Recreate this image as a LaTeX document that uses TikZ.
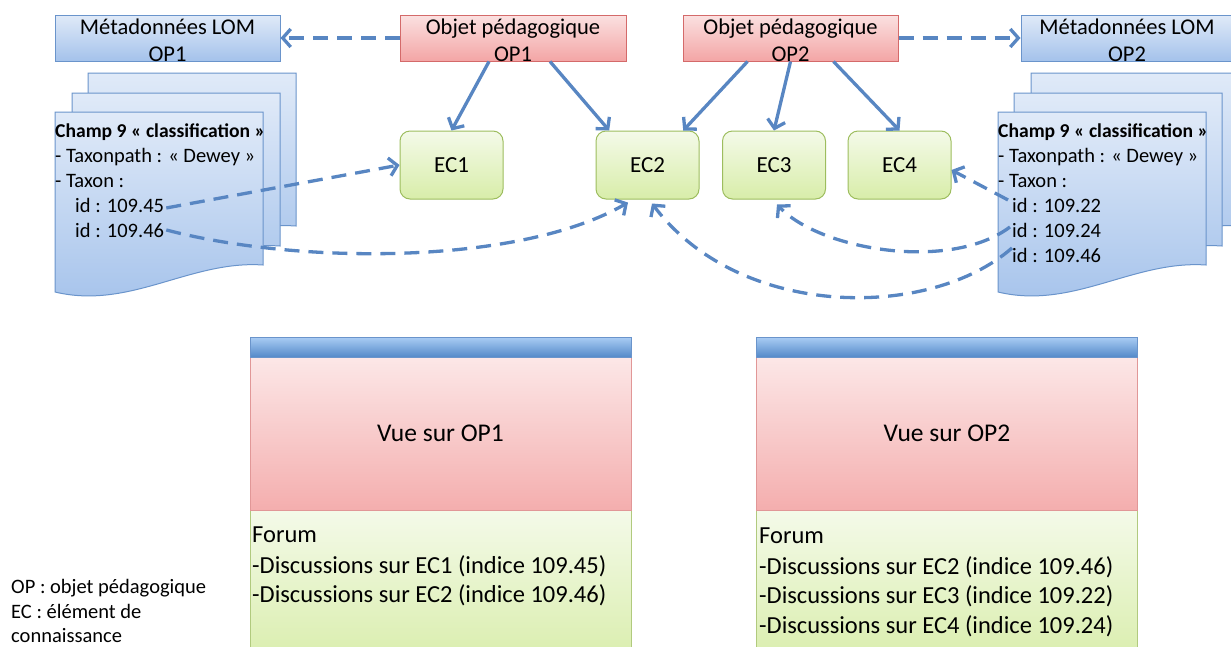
\documentclass[tikz,border=0pt]{standalone}
\usepackage{fontspec}
\setmainfont{Carlito}
\usetikzlibrary{arrows.meta}
\definecolor{arrc}{HTML}{5886C2}
\definecolor{bluetop}{HTML}{E0EAF8}
\definecolor{bluebot}{HTML}{A4C2EB}
\definecolor{bluedraw}{HTML}{6A94CB}
\definecolor{redtop}{HTML}{FBE1E1}
\definecolor{redbot}{HTML}{F3A5A5}
\definecolor{reddraw}{HTML}{D46A6A}
\definecolor{greentop}{HTML}{F4FAE9}
\definecolor{greenbot}{HTML}{D8EDA9}
\definecolor{greendraw}{HTML}{9DBD5E}
\definecolor{bartop}{HTML}{A8CBF3}
\definecolor{barbot}{HTML}{5288C8}
\tikzset{
  bluebox/.style={draw=bluedraw, line width=1pt, top color=bluetop, bottom color=bluebot, minimum height=46pt, inner sep=0pt},
  redbox/.style={draw=reddraw, line width=1pt, top color=redtop, bottom color=redbot, minimum height=46pt, inner sep=0pt},
  ecbox/.style={draw=greendraw, line width=1pt, top color=greentop, bottom color=greenbot, rounded corners=10pt, minimum width=103pt, minimum height=68pt, inner sep=0pt, font=\fontsize{23pt}{27pt}\selectfont},
  boxtxt/.style={inner sep=0pt, anchor=base, font=\fontsize{22.5pt}{27pt}\selectfont},
  doctxt/.style={inner sep=0pt, anchor=base west, font=\fontsize{20.5pt}{25pt}\selectfont},
  dochead/.style={inner sep=0pt, anchor=base west, font=\fontsize{19.6pt}{25pt}\selectfont\bfseries},
  docpage/.style={draw=bluedraw, line width=1pt, top color=bluetop, bottom color=bluebot},
  barbox/.style={draw=bluedraw, line width=0.8pt, top color=bartop, bottom color=barbot, minimum width=381pt, minimum height=20pt, inner sep=0pt},
  redpanel/.style={draw=reddraw!70, line width=0.8pt, top color=redtop!80!white, bottom color=redbot!90!white, minimum width=381pt, minimum height=153pt, inner sep=0pt, font=\fontsize{25.5pt}{30pt}\selectfont},
  greenpanel/.style={draw=greendraw!80, line width=0.8pt, top color=greentop, bottom color=greenbot, minimum width=381pt, minimum height=160pt, inner sep=0pt},
  paneltxt/.style={inner sep=0pt, anchor=base west, font=\fontsize{24.5pt}{30pt}\selectfont},
  legtxt/.style={inner sep=0pt, anchor=base west, font=\fontsize{20.5pt}{25pt}\selectfont},
  arr/.style={draw=arrc, line width=3.3pt, -{Straight Barb[length=8pt,width=18pt,line width=3.3pt]}},
  darr/.style={arr, dash pattern=on 15pt off 9pt}
}
\newcommand\docpg[2]{%
  \draw[docpage, shift={(#1,#2)}] (55,112) -- (263,112) -- (263,265)
    .. controls (190,260) and (130,310) .. (55,292) -- cycle;}
\begin{document}
\begin{tikzpicture}[x=1pt,y=-1pt]
\useasboundingbox (0,0) rectangle (1231,646);
\clip (0,0) rectangle (1231,646);

% top boxes
\node[bluebox, minimum width=225pt] (lom1) at (167.5,38) {};
\node[boxtxt] (lom1a) at (167.5,34) {Métadonnées LOM};
\node[boxtxt] (lom1b) at (167.5,61.5) {OP1};
\node[redbox, minimum width=226pt] (op1) at (513,38) {};
\node[boxtxt] (op1a) at (513,34) {Objet pédagogique};
\node[boxtxt] (op1b) at (513,61.5) {OP1};
\node[redbox, minimum width=215pt] (op2) at (790.5,38) {};
\node[boxtxt] (op2a) at (790.5,34) {Objet pédagogique};
\node[boxtxt] (op2b) at (790.5,61.5) {OP2};
\node[bluebox, minimum width=212pt] (lom2) at (1127,38) {};
\node[boxtxt] (lom2a) at (1127,34) {Métadonnées LOM};
\node[boxtxt] (lom2b) at (1127,61.5) {OP2};

% left document stack
\docpg{33}{-39}
\docpg{17}{-19}
\docpg{0}{0}
\node[dochead] (h1) at (55,137) {Champ 9 « classification »};
\node[doctxt] (tp1) at (55,162) {- Taxonpath : « Dewey »};
\node[doctxt] (tx1) at (55,187) {- Taxon :};
\node[doctxt] (id45) at (75,212) {id : 109.45};
\node[doctxt] (id46) at (75,237) {id : 109.46};

% right document stack
\docpg{976}{-39}
\docpg{959}{-19}
\docpg{943}{0}
\node[dochead] (h2) at (998,137) {Champ 9 « classification »};
\node[doctxt] (tp2) at (998,162) {- Taxonpath : « Dewey »};
\node[doctxt] (tx2) at (998,187) {- Taxon :};
\node[doctxt] (idr22) at (1012,212) {id : 109.22};
\node[doctxt] (idr24) at (1012,237) {id : 109.24};
\node[doctxt] (idr46) at (1012,262) {id : 109.46};

% knowledge elements
\node[ecbox] (ec1) at (451.5,165) {EC1};
\node[ecbox] (ec2) at (647.5,165) {EC2};
\node[ecbox] (ec3) at (774,165) {EC3};
\node[ecbox] (ec4) at (899.5,165) {EC4};

% lower panels
\node[greenpanel, anchor=north] (g1) at (440.5,510) {};
\node[redpanel] (vue1) at (440.5,433.5) {Vue sur OP1};
\node[barbox] (bar1) at (440.5,347.5) {};
\node[paneltxt] (f1) at (252,542) {Forum};
\node[paneltxt] (f1a) at (252,573) {-Discussions sur EC1 (indice 109.45)};
\node[paneltxt] (f1b) at (252,602) {-Discussions sur EC2 (indice 109.46)};

\node[greenpanel, anchor=north] (g2) at (947,510) {};
\node[redpanel] (vue2) at (947,433.5) {Vue sur OP2};
\node[barbox] (bar2) at (947,347.5) {};
\node[paneltxt] (f2) at (759,543) {Forum};
\node[paneltxt] (f2a) at (759,574) {-Discussions sur EC2 (indice 109.46)};
\node[paneltxt] (f2b) at (759,603) {-Discussions sur EC3 (indice 109.22)};
\node[paneltxt] (f2c) at (759,633) {-Discussions sur EC4 (indice 109.24)};

% legend
\node[legtxt] (leg1) at (11,593) {OP : objet pédagogique};
\node[legtxt] (leg2) at (11,618) {EC : élément de};
\node[legtxt] (leg3) at (11,642) {connaissance};

% solid arrows
\draw[arr] ([xshift=-24pt]op1.south) -- (ec1.north);
\draw[arr] ([xshift=37pt]op1.south) -- (ec2.138);
\draw[arr] ([xshift=-43pt]op2.south) -- (ec2.44);
\draw[arr] (op2.south) -- (ec3.north);
\draw[arr] ([xshift=43pt]op2.south) -- (ec4.north);

% dashed arrows
\draw[darr] (op1.west) -- (lom1.east);
\draw[darr] (op2.east) -- (lom2.west);
\draw[darr] ([shift={(2pt,-3pt)}]id45.east) -- (ec1.west);
\draw[darr] ([xshift=2pt]id46.east) .. controls (300,265) and (520,265) .. ([shift={(-19.5pt,-3pt)}]ec2.south);
\draw[darr] ([shift={(-4pt,5pt)}]idr22.west) -- ([yshift=-5pt]ec4.east);
\draw[darr] ([shift={(-2pt,3pt)}]idr24.west) .. controls (950,272) and (820,250) .. ([shift={(3pt,-5pt)}]ec3.south);
\draw[darr] ([shift={(0pt,7pt)}]idr46.west) .. controls (930,320) and (740,320) .. ([shift={(4.5pt,-4pt)}]ec2.south);
\end{tikzpicture}
\end{document}
